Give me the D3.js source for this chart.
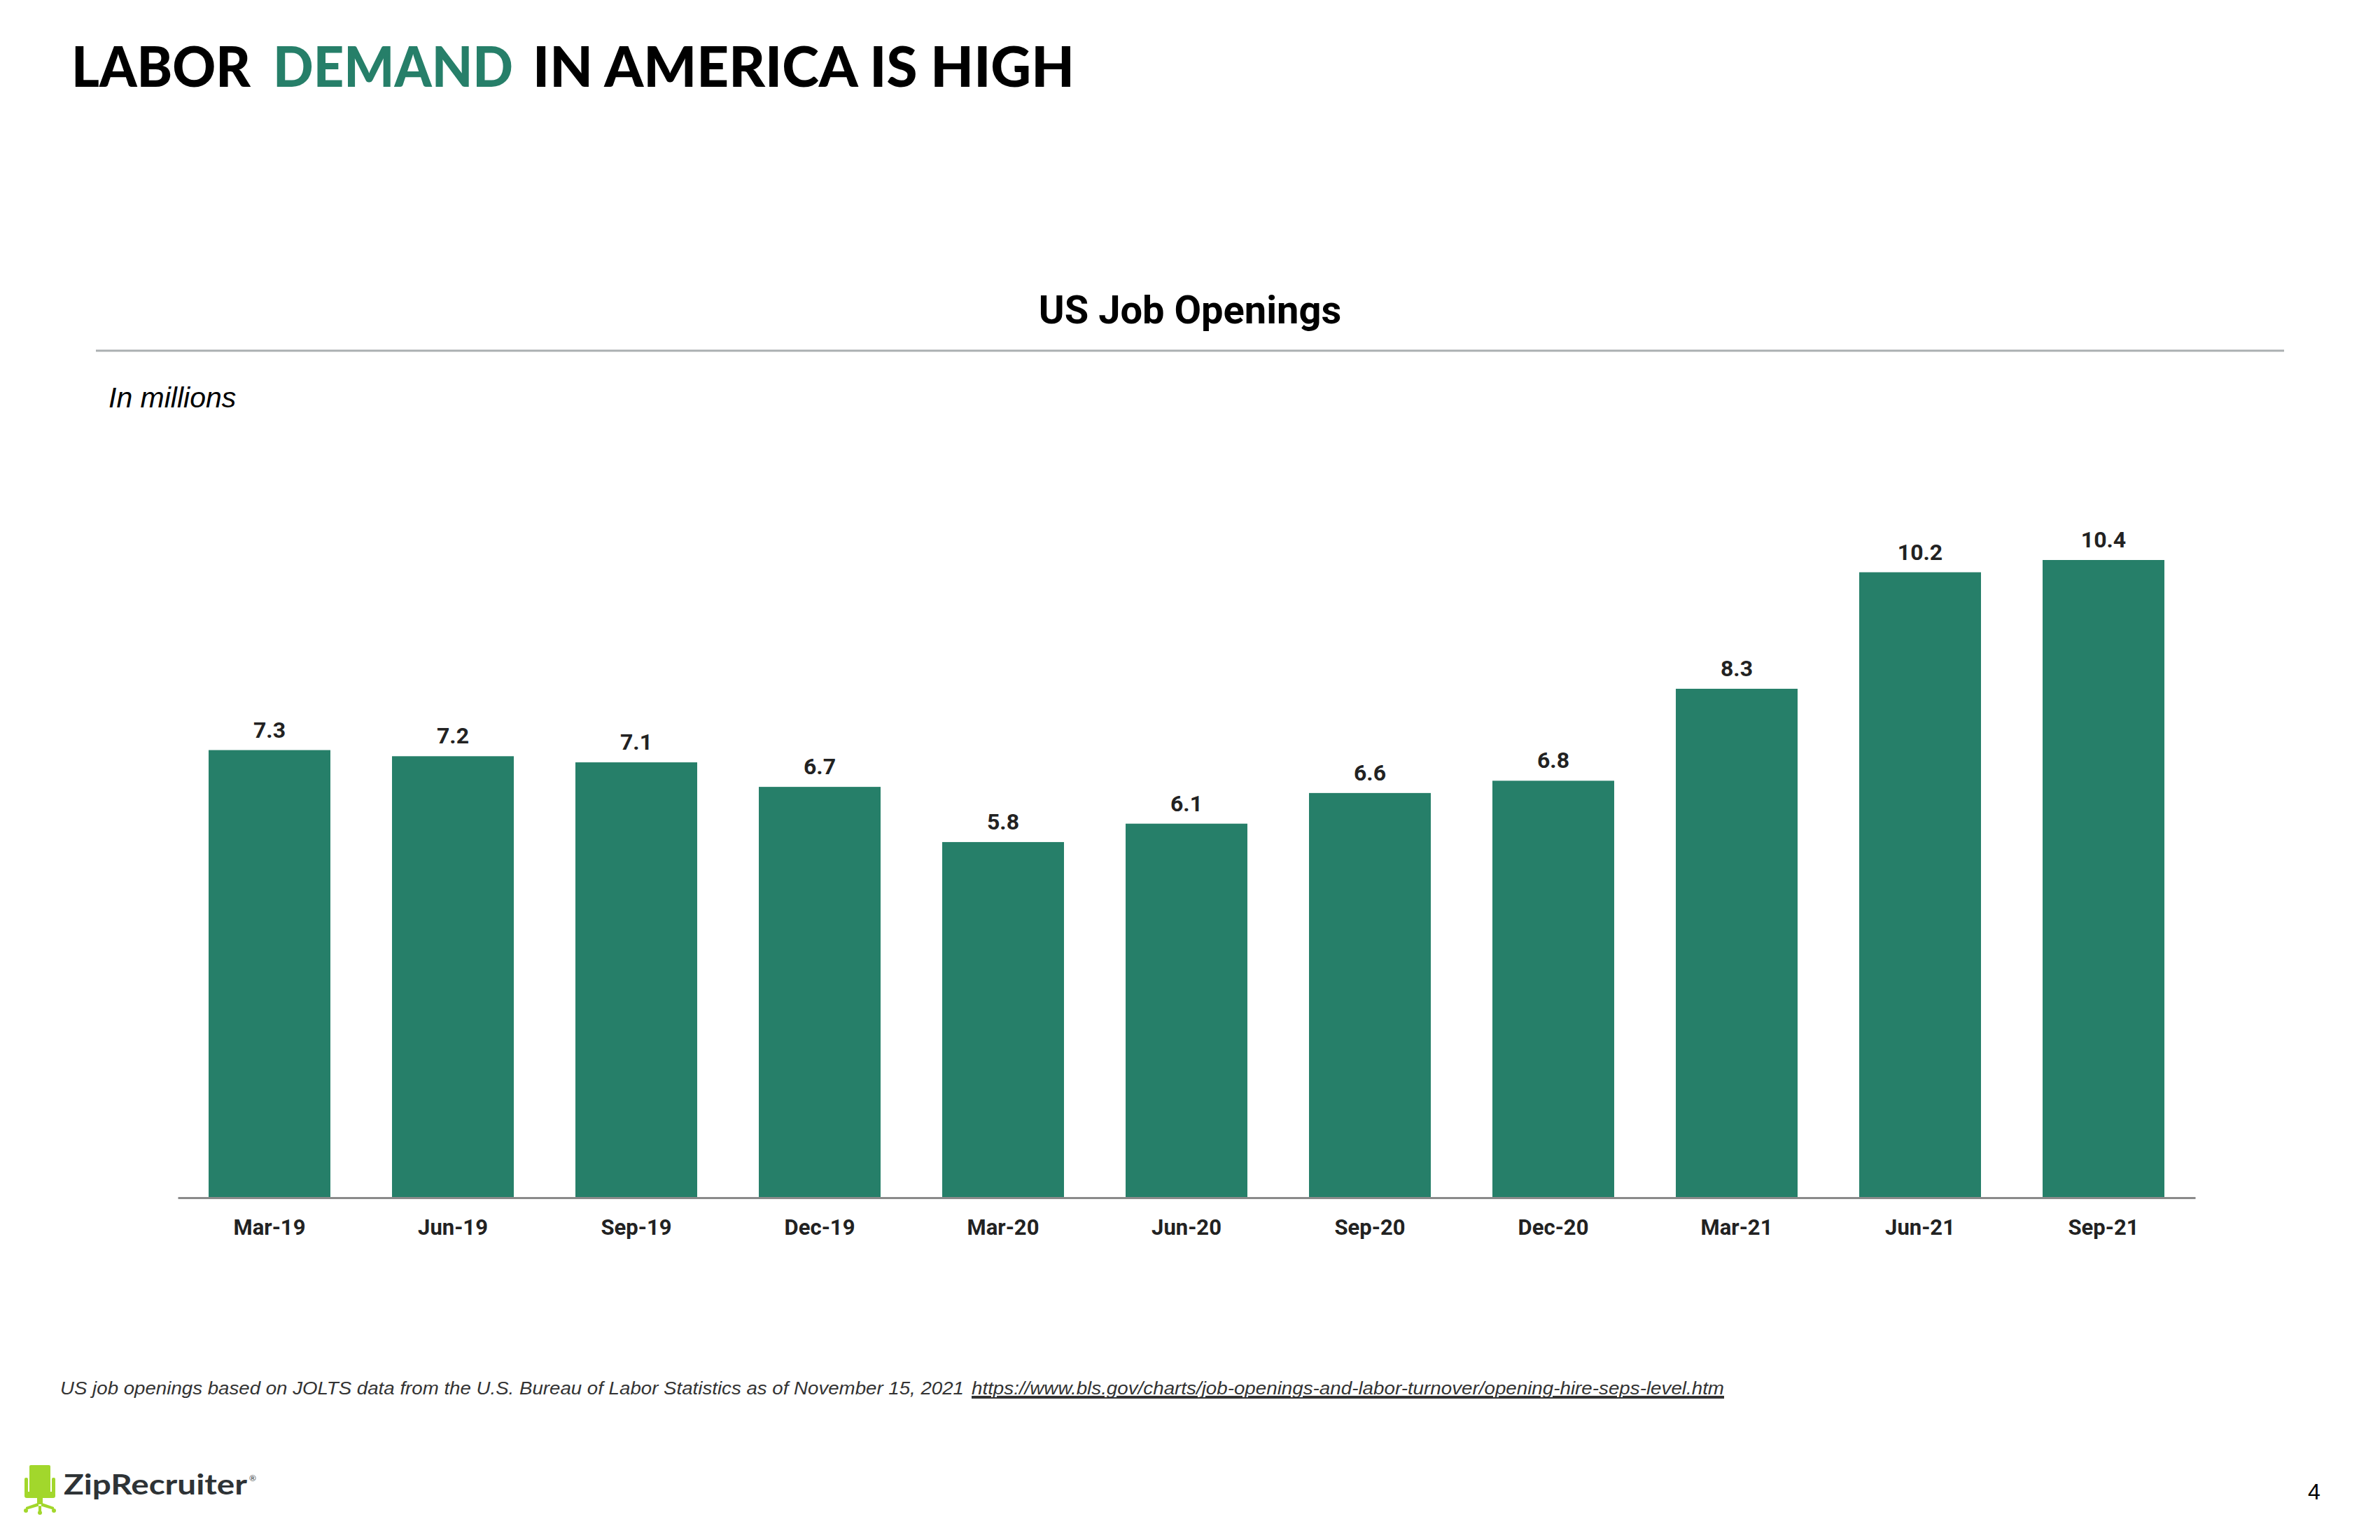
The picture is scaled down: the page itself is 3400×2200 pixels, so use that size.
<!DOCTYPE html>
<html>
<head>
<meta charset="utf-8">
<script src="https://cdn.jsdelivr.net/npm/d3@7"></script>
<style>
  html, body { margin: 0; padding: 0; background: #ffffff; }
  svg { display: block; }
</style>
</head>
<body>
<svg id="chart" width="3400" height="2200"></svg>
<script>
// ---- data ----
const categories = ["Mar-19","Jun-19","Sep-19","Dec-19","Mar-20","Jun-20","Sep-20","Dec-20","Mar-21","Jun-21","Sep-21"];
const values = [7.3, 7.2, 7.1, 6.7, 5.8, 6.1, 6.6, 6.8, 8.3, 10.2, 10.4];
const titleParts = ["LABOR", "DEMAND", "IN AMERICA IS HIGH"];
const chartTitle = "US Job Openings";
const unitLabel = "In millions";
const sourceText = "US job openings based on JOLTS data from the U.S. Bureau of Labor Statistics as of November 15, 2021";
const sourceLink = "https://www.bls.gov/charts/job-openings-and-labor-turnover/opening-hire-seps-level.htm";

const GREEN = "#267f69";
const svg = d3.select("#chart");

// ---- page title ----
const titleLayout = [[102, 256, "#000000"], [390, 343, GREEN], [761, 774, "#000000"]];
titleParts.forEach((p, i) => {
  svg.append("text")
    .attr("x", titleLayout[i][0]).attr("y", 124)
    .attr("font-family", "Lato, 'Noto Sans', sans-serif")
    .attr("font-weight", 900)
    .attr("font-size", 80)
    .attr("textLength", titleLayout[i][1])
    .attr("lengthAdjust", "spacingAndGlyphs")
    .attr("fill", titleLayout[i][2])
    .text(p);
});

// ---- chart title and rule ----
svg.append("text")
  .attr("x", 1700).attr("y", 462)
  .attr("text-anchor", "middle")
  .attr("font-family", "Roboto, sans-serif")
  .attr("font-weight", 700)
  .attr("font-size", 56)
  .attr("fill", "#000")
  .text(chartTitle);

svg.append("line")
  .attr("x1", 137).attr("x2", 3263)
  .attr("y1", 501).attr("y2", 501)
  .attr("stroke", "#abb0b2").attr("stroke-width", 3);

svg.append("text")
  .attr("x", 155).attr("y", 582)
  .attr("font-family", "'Liberation Sans', Arial, sans-serif")
  .attr("font-style", "italic")
  .attr("font-size", 41)
  .attr("fill", "#000")
  .text(unitLabel);

// ---- scales ----
const x = d3.scaleBand()
  .domain(categories)
  .range([254, 3136])
  .paddingInner(0.336)
  .paddingOuter(0.168);

const y = d3.scaleLinear()
  .domain([0, 10.4])
  .range([1711, 800]);

// ---- bars ----
svg.append("g").selectAll("rect")
  .data(values)
  .join("rect")
  .attr("x", (d, i) => x(categories[i]))
  .attr("y", d => y(d))
  .attr("width", x.bandwidth())
  .attr("height", d => y(0) - y(d))
  .attr("fill", GREEN);

// ---- value labels ----
svg.append("g").selectAll("text")
  .data(values)
  .join("text")
  .attr("x", (d, i) => x(categories[i]) + x.bandwidth() / 2)
  .attr("y", d => y(d) - 18)
  .attr("text-anchor", "middle")
  .attr("font-family", "Roboto, sans-serif")
  .attr("font-weight", 700)
  .attr("font-size", 32)
  .attr("fill", "#222")
  .text(d => d.toFixed(1));

// ---- x axis ----
const axis = svg.append("g")
  .attr("transform", `translate(0,${y(0)})`)
  .call(d3.axisBottom(x).tickSize(0).tickSizeOuter(0));
axis.select(".domain").attr("stroke", "#8a8a8a").attr("stroke-width", 3);
axis.selectAll(".tick text")
  .attr("y", 53).attr("dy", 0)
  .attr("font-family", "Roboto, sans-serif")
  .attr("font-weight", 700)
  .attr("font-size", 31)
  .attr("fill", "#222");

// ---- footnote ----
svg.append("text")
  .attr("x", 86).attr("y", 1992)
  .attr("font-family", "'Liberation Sans', Arial, sans-serif")
  .attr("font-style", "italic")
  .attr("font-size", 26)
  .attr("fill", "#333")
  .attr("textLength", 1291)
  .attr("lengthAdjust", "spacingAndGlyphs")
  .text(sourceText);
svg.append("text")
  .attr("x", 1388).attr("y", 1992)
  .attr("font-family", "'Liberation Sans', Arial, sans-serif")
  .attr("font-style", "italic")
  .attr("font-size", 26)
  .attr("fill", "#333")
  .attr("text-decoration", "underline")
  .attr("textLength", 1075)
  .attr("lengthAdjust", "spacingAndGlyphs")
  .text(sourceLink);
svg.append("line")
  .attr("x1", 1388).attr("x2", 2463)
  .attr("y1", 1997).attr("y2", 1997)
  .attr("stroke", "#333").attr("stroke-width", 2);

// ---- logo ----
const LIME = "#a2d72c";
const logo = svg.append("g");
logo.append("rect").attr("x", 42).attr("y", 2093).attr("width", 30).attr("height", 43).attr("rx", 2).attr("fill", LIME);
logo.append("rect").attr("x", 35).attr("y", 2111).attr("width", 5).attr("height", 23).attr("rx", 2).attr("fill", LIME);
logo.append("rect").attr("x", 74).attr("y", 2111).attr("width", 5).attr("height", 23).attr("rx", 2).attr("fill", LIME);
logo.append("rect").attr("x", 35).attr("y", 2131).attr("width", 44).attr("height", 9).attr("rx", 3).attr("fill", LIME);
logo.append("rect").attr("x", 53).attr("y", 2139).attr("width", 8).attr("height", 10).attr("fill", LIME);
logo.append("path")
  .attr("d", "M57,2146 L37,2153 L37,2157 L57,2151 L77,2157 L77,2153 Z M55,2148 L59,2148 L59,2162 L55,2162 Z")
  .attr("fill", LIME);
[[37,2158],[77,2158],[57,2161]].forEach(c => {
  logo.append("circle").attr("cx", c[0]).attr("cy", c[1]).attr("r", 3).attr("fill", LIME);
});
logo.append("text")
  .attr("x", 91).attr("y", 2135)
  .attr("font-family", "Lato, sans-serif")
  .attr("font-weight", 700)
  .attr("font-size", 40)
  .attr("fill", "#2e3336")
  .attr("textLength", 262)
  .attr("lengthAdjust", "spacingAndGlyphs")
  .text("ZipRecruiter");
logo.append("text")
  .attr("x", 356).attr("y", 2116)
  .attr("font-family", "Lato, sans-serif")
  .attr("font-size", 12)
  .attr("fill", "#2e3336")
  .text("®");

// ---- page number ----
svg.append("text")
  .attr("x", 3297).attr("y", 2142)
  .attr("font-family", "'Liberation Sans', Arial, sans-serif")
  .attr("font-size", 32)
  .attr("fill", "#000")
  .text("4");
</script>
</body>
</html>
